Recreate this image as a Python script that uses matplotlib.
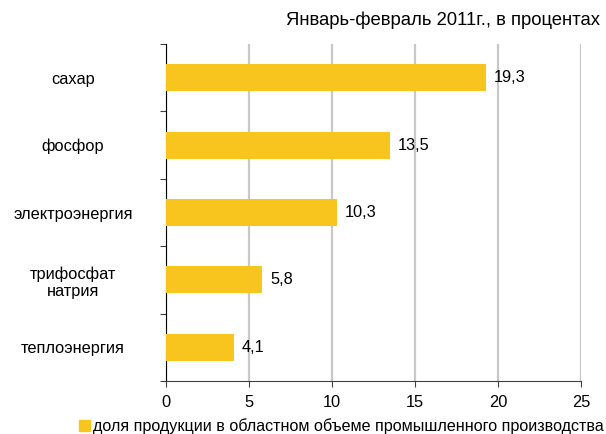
import matplotlib

matplotlib.use("agg")
import matplotlib.pyplot as plt  # noqa: E402
from matplotlib.patches import Patch  # noqa: E402

plt.rcParams["font.family"] = ["Liberation Sans", "DejaVu Sans"]

categories = ["сахар", "фосфор", "электроэнергия", "трифосфат\nнатрия", "теплоэнергия"]
values = [19.3, 13.5, 10.3, 5.8, 4.1]
value_labels = ["19,3", "13,5", "10,3", "5,8", "4,1"]
xticks = [0, 5, 10, 15, 20, 25]

BAR = "#F7C51E"
FS = 11.8

fig = plt.figure(figsize=(6.06, 4.34), dpi=100)
ax = fig.add_axes([166 / 606, 1 - 381 / 434, 415 / 606, 337 / 434])

pos = list(range(len(categories)))[::-1]
ax.barh(pos, values, height=0.4, color=BAR, zorder=3)
for p, v, lab in zip(pos, values, value_labels):
    ax.annotate(lab, xy=(v, p), xytext=(5.5, 0), textcoords="offset points",
                va="center", ha="left", fontsize=11.8, zorder=4)

ax.set_xlim(0, 25)
ax.set_ylim(-0.5, len(categories) - 0.5)
ax.set_xticks(xticks)
ax.set_xticklabels([str(t) for t in xticks], fontsize=FS)
ax.grid(axis="x", color="#C8C8C8", lw=1.6, zorder=0)

# boundary ticks on the left, labels at centres
ax.set_yticks([i - 0.5 for i in range(len(categories) + 1)])
ax.set_yticklabels([])
ax.set_yticks(pos, minor=True)
ax.set_yticklabels(categories, minor=True, fontsize=FS, ha="center")
ax.tick_params(axis="y", which="minor", length=0, pad=67)
ax.tick_params(axis="y", which="major", length=4, color="#404040")
ax.tick_params(axis="x", length=4, color="#404040", pad=6)

for s in ("top", "right"):
    ax.spines[s].set_visible(False)
ax.spines["left"].set_color("black")
ax.spines["bottom"].set_color("#404040")

fig.text(600 / 606, 1 - 20 / 434, "Январь-февраль 2011г., в процентах",
         ha="right", va="center", fontsize=13.3)

fig.legend(handles=[Patch(color=BAR)],
           labels=["доля продукции в областном объеме промышленного производства"],
           loc="center right", bbox_to_anchor=(604 / 606, 1 - 426 / 434),
           frameon=False, fontsize=11.6, handlelength=0.7, handleheight=0.7,
           handletextpad=0.2, borderpad=0, borderaxespad=0)

fig.savefig("out.png", dpi=100)
